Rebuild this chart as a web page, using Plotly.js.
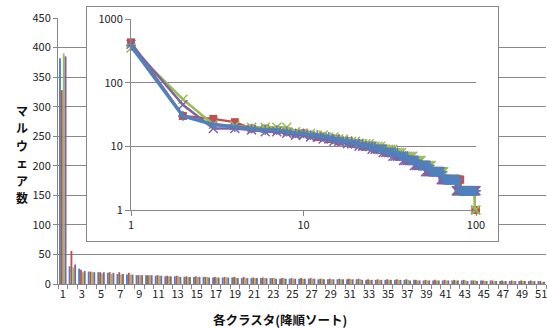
<!DOCTYPE html>
<html><head><meta charset="utf-8">
<script src="https://cdn.plot.ly/plotly-3.0.1.min.js"></script>
<style>html,body{margin:0;padding:0;background:#fff}#c{width:547px;height:329px}</style>
</head><body><div id="c"></div>
<script>
// Main bar chart: clusters 1..51
const categories = [1,2,3,4,5,6,7,8,9,10,11,12,13,14,15,16,17,18,19,20,21,22,23,24,25,26,27,28,29,30,31,32,33,34,35,36,37,38,39,40,41,42,43,44,45,46,47,48,49,50,51];
const barBlue = [382,30,26,21,20,19,17,16,15,15, 14,13,13,12,12,12,11,11,11,10, 10,10,10,9,9,9,9,8,8,8, 8,8,7,7,7,7,7,7,6,6, 6,6,6,6,6,6,5,5,5,5, 5];
const barRed = [328,56,24,21,20,20,20,19,15,15, 15,14,14,13,13,12,12,12,12,12, 11,11,10,10,10,10,10,9,9,9, 9,9,8,8,8,8,8,7,7,7, 7,7,7,6,6,6,6,6,6,6, 5];
const barGreen = [390,28,20,20,18,17,16,16,15,15, 14,13,13,12,12,12,11,11,11,10, 10,10,10,10,9,9,9,9,8,8, 8,8,7,7,7,7,7,6,6,6, 6,6,6,6,5,5,5,5,5,5, 3];
const barPurple = [385,33,22,20,20,19,17,16,15,15, 14,13,12,12,12,11,11,11,10,10, 10,10,9,9,9,9,9,8,8,8, 8,7,7,7,7,7,6,6,6,6, 6,6,5,5,5,5,5,5,5,5, 4];
const yTickVals = [0,50,100,150,200,250,300,350,400,450];
const yTitleChars = ['マ','ル','ウ','ェ','ア','数'];
const xTitle = '各クラスタ(降順ソート)';

// Inset log-log chart: ranks 1..100
const ranks = [1,2,3,4,5,6,7,8,9,10,11,12,13,14,15,16,17,18,19,20,21,22,23,24,25,26,27,28,29,30,31,32,33,34,35,36,37,38,39,40,41,42,43,44,45,46,47,48,49,50,51,52,53,54,55,56,57,58,59,60,61,62,63,64,65,66,67,68,69,70,71,72,73,74,75,76,77,78,79,80,81,82,83,84,85,86,87,88,89,90,91,92,93,94,95,96,97,98,99,100];
const inRed = [430,30,27,24,19,19,18,17,16,16, 15,14,14,13,13,12,12,12,11,11, 11,10,10,10,10,9,9,9,9,8, 8,8,8,8,7,7,7,7,7,6, 6,6,6,6,6,5,5,5,5,5, 5,5,4,4,4,4,4,4,4,4, 4,4,4,3,3,3,3,3,3,3, 3,3,3,3,3,3,3,3,3,3, 3,2,2,2,2,2,2,2,2,2, 2,2,2,2,2,2,2,2,1,1];
const inGreen = [350,55,22,21,20,20,20,20,17,16, 16,15,15,14,14,13,13,12,12,12, 11,11,11,11,10,10,10,10,9,9, 9,9,9,8,8,8,8,7,7,7, 7,7,7,6,6,6,6,6,5,5, 5,5,5,5,5,4,4,4,4,4, 4,4,4,4,4,3,3,3,3,3, 3,3,3,3,3,3,2,2,2,2, 2,2,2,2,2,2,2,2,2,2, 2,2,2,2,2,2,2,2,1,1];
const inPurple = [400,45,19,19,18,17,17,16,15,15, 14,14,13,13,12,12,12,11,11,11, 10,10,10,10,9,9,9,9,8,8, 8,8,7,7,7,7,7,6,6,6, 6,6,6,5,5,5,5,5,5,5, 4,4,4,4,4,4,4,4,4,4, 4,4,3,3,3,3,3,3,3,3, 3,3,3,3,3,3,2,2,2,2, 2,2,2,2,2,2,2,2,2,2, 2,2,2,2,2,2,2,2,2,2];
const inBlue = [380,30,22,20,19,18,18,17,16,16, 15,15,14,14,13,13,12,12,12,11, 11,11,10,10,10,10,9,9,9,9, 8,8,8,8,8,7,7,7,7,7, 6,6,6,6,6,6,5,5,5,5, 5,5,5,5,4,4,4,4,4,4, 4,4,4,4,3,3,3,3,3,3, 3,3,3,3,3,3,3,3,3,2, 2,2,2,2,2,2,2,2,2,2, 2,2,2,2,2,2,2,2,2,2];
const inXTicks = [1,10,100];
const inYTicks = [1,10,100,1000];

const C = {blue:'#4F81BD', red:'#C0504D', green:'#9BBB59', purple:'#8064A2'};
const GRID = '#878787';
const FONT = '"Noto Sans CJK JP", "Noto Sans", sans-serif';

// pixel geometry helpers (layout only)
const W = 547, H = 329, ML = 58, MR = 1, MT = 5, MB = 45;
const PW = W - ML - MR, PH = H - MT - MB;
const fx = px => (px - ML) / PW;
const fy = py => (H - MB - py) / PH;

function bar(y, col){
  return {type:'bar', x:categories, y:y, marker:{color:col, line:{width:0}}, xaxis:'x', yaxis:'y', hoverinfo:'none', showlegend:false};
}
function line(y, col, sym, size, w, mw){
  return {type:'scatter', mode:'lines+markers', x:ranks, y:y, xaxis:'x3', yaxis:'y3',
    line:{color:col, width:w}, marker:{symbol:sym, size:size, color:col, line:{color:col, width:mw}},
    hoverinfo:'none', showlegend:false, cliponaxis:false};
}

const data = [
  bar(barBlue, C.blue), bar(barRed, C.red), bar(barGreen, C.green), bar(barPurple, C.purple),
  {type:'scatter', x:[], y:[], xaxis:'x2', yaxis:'y2', showlegend:false, hoverinfo:'none'},
  line(inRed, C.red, 'square', 8, 2.5, 0),
  line(inGreen, C.green, 'x-thin-open', 9, 2.5, 1.5),
  line(inPurple, C.purple, 'x-thin-open', 9, 2.5, 1.5),
  line(inBlue, C.blue, 'cross-thin-open', 7, 3.5, 1.5)
];

const titleYs = [110, 127.5, 145, 162.5, 180, 197.5];
const annotations = yTitleChars.map((ch, i) => ({
  xref:'paper', yref:'paper', x:fx(22), y:fy(titleYs[i]), xanchor:'center', yanchor:'middle', showarrow:false,
  borderpad:0, text:'<b>' + ch + '</b>', font:{size:12, color:'#111', family:FONT}
}));
annotations.push({xref:'paper', yref:'paper', x:fx(280), y:fy(320), xanchor:'center', yanchor:'middle', showarrow:false,
  text:'<b>' + xTitle + '</b>', font:{size:12.5, color:'#111', family:FONT}});

const layout = {
  width:W, height:H, margin:{l:ML, r:MR, t:MT, b:MB},
  paper_bgcolor:'#fff', plot_bgcolor:'#fff',
  font:{family:FONT, size:11, color:'#222'},
  barmode:'group', bargap:0.22, bargroupgap:0,
  showlegend:false,
  xaxis:{domain:[0,1], range:[0.5,51.5], tickmode:'linear', tick0:1, dtick:2, ticks:'', showgrid:false, zeroline:false,
    showline:true, linecolor:GRID, linewidth:1, tickfont:{size:11, color:'#222'}, ticklabeloverflow:'allow',
    minor:{ticks:'outside', tick0:0.5, dtick:1, ticklen:4, tickcolor:GRID, showgrid:false}},
  yaxis:{domain:[0, fy(18)], range:[0,450], tickmode:'array', tickvals:yTickVals, ticks:'outside', ticklen:4, tickcolor:GRID,
    showgrid:true, gridcolor:GRID, gridwidth:1, zeroline:false, showline:true, linecolor:GRID, tickfont:{size:11, color:'#222'}},
  xaxis2:{domain:[fx(87), fx(498)], anchor:'y2', range:[0,1], showgrid:false, zeroline:false, showticklabels:false, ticks:'',
    showline:true, mirror:true, linecolor:GRID, linewidth:1, fixedrange:true},
  yaxis2:{domain:[fy(241), fy(7)], anchor:'x2', range:[0,1], showgrid:false, zeroline:false, showticklabels:false, ticks:'',
    showline:true, mirror:true, linecolor:GRID, linewidth:1, fixedrange:true},
  xaxis3:{domain:[fx(131), fx(476)], anchor:'y3', type:'log', range:[0,2], tickmode:'array', tickvals:inXTicks, ticktext:inXTicks.map(String),
    ticks:'outside', ticklen:5, tickcolor:GRID, showgrid:false, zeroline:false, showline:true, linecolor:GRID, tickfont:{size:11, color:'#222'}},
  yaxis3:{domain:[fy(210), fy(19)], anchor:'x3', type:'log', range:[0,3], tickmode:'array', tickvals:inYTicks, ticktext:inYTicks.map(String),
    ticks:'outside', ticklen:5, tickcolor:GRID, showgrid:true, gridcolor:GRID, zeroline:false, showline:true, linecolor:GRID, tickfont:{size:11, color:'#222'}},
  annotations: annotations
};

Plotly.newPlot('c', data, layout, {staticPlot:true, displayModeBar:false});
</script></body></html>
